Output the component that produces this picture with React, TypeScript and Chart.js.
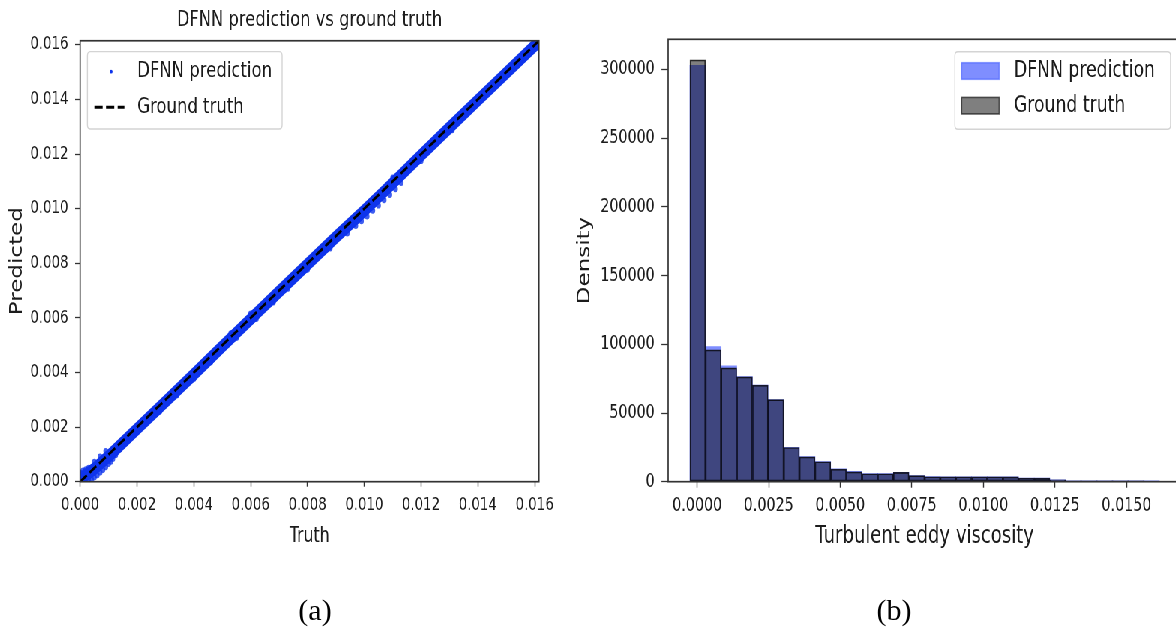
import React, { useEffect, useRef } from "react";
import { Chart, registerables } from "chart.js";

Chart.register(...registerables);

// ---------- layout / style constants ----------
const SQUEEZE = 0.75; // the reference figure is squeezed horizontally
const FONT = '"DejaVu Sans", "Liberation Sans", sans-serif';
const INK = "#1c1c1c";
const SPINE = "#333333";
const BLUE = "rgb(14, 52, 236)";
const BLUE_SPRAY = "rgba(14, 52, 236, 0.8)";
const PRED_FILL = "rgba(0, 30, 255, 0.5)";
const TRUTH_FILL = "rgba(0, 0, 0, 0.5)";
const TRUTH_EDGE = "rgba(0, 0, 0, 0.8)";

// ---------- (a) scatter: DFNN prediction vs ground truth ----------
const scatterTitle = "DFNN prediction vs ground truth";
const scatterXLabel = "Truth";
const scatterYLabel = "Predicted";
const scatterMax = 0.01615;
const scatterXTicks = [0, 0.002, 0.004, 0.006, 0.008, 0.01, 0.012, 0.014, 0.016];
const scatterYTicks = [0, 0.002, 0.004, 0.006, 0.008, 0.01, 0.012, 0.014, 0.016];

const truthLineX = [0, 0.01615];
const truthLineY = [0, 0.01615];

const bandTruth = [0, 0.0005, 0.001, 0.002, 0.003, 0.004, 0.005, 0.006, 0.007, 0.008, 0.009, 0.01, 0.011, 0.012, 0.013, 0.014, 0.015, 0.01615];
const bandPred = [0.0001, 0.00047, 0.00093, 0.00193, 0.00293, 0.00393, 0.00495, 0.00596, 0.00696, 0.00796, 0.00896, 0.00993, 0.01093, 0.01196, 0.01297, 0.01397, 0.01497, 0.01612];

const sprayTruth = [0.0, 0.0001, 0.0002, 0.0003, 0.0001, 0.0003, 0.0004, 0.0005, 0.0006, 0.0007, 0.0008, 0.0009, 0.001, 0.00108, 0.00115, 0.00125, 0.0014, 0.0005, 0.0007, 0.0009, 0.0028, 0.0034, 0.004, 0.0046, 0.0053, 0.0055, 0.006, 0.0062, 0.0068, 0.0073, 0.008, 0.0088, 0.0094, 0.0097, 0.0099, 0.0101, 0.0103, 0.0105, 0.0107, 0.011, 0.0109, 0.0111, 0.0113, 0.012, 0.0131];
const sprayPred = [0.00033, 0.0004, 0.00045, 0.0005, 0.00002, 0.0001, 0.00008, 0.00016, 0.00024, 0.00034, 0.00044, 0.00054, 0.00066, 0.00074, 0.00084, 0.00098, 0.00119, 0.00072, 0.00092, 0.00112, 0.00257, 0.00317, 0.00377, 0.00438, 0.00543, 0.00527, 0.00615, 0.00597, 0.00657, 0.00707, 0.00777, 0.00855, 0.0091, 0.00937, 0.00955, 0.00972, 0.00993, 0.01012, 0.01032, 0.01113, 0.01051, 0.01072, 0.01095, 0.01175, 0.01288];

// ---------- (b) histogram ----------
const histXLabel = "Turbulent eddy viscosity";
const histYLabel = "Density";
const histXMin = -0.001014;
const histXMax = 0.016913;
const histYMax = 322000;
const histXTicks = [0, 0.0025, 0.005, 0.0075, 0.01, 0.0125, 0.015];
const histYTicks = [0, 50000, 100000, 150000, 200000, 250000, 300000];

const binCenters = [0.000019, 0.000566, 0.001112, 0.001659, 0.002206, 0.002753, 0.0033, 0.003847, 0.004394, 0.004941, 0.005488, 0.006035, 0.006582, 0.007129, 0.007676, 0.008223, 0.00877, 0.009317, 0.009864, 0.010411, 0.010958, 0.011505, 0.012052, 0.012599, 0.013146, 0.013693, 0.01424, 0.014787, 0.015334, 0.015881];
const predDensity = [303000, 98300, 84300, 76500, 70400, 59800, 25000, 18200, 14600, 9300, 7500, 5900, 5900, 6800, 4500, 3700, 3600, 3600, 3600, 3600, 3600, 2700, 2700, 1400, 600, 600, 550, 550, 550, 550];
const truthDensity = [307000, 95900, 82800, 76300, 70300, 59700, 24900, 18100, 14500, 9200, 7100, 5800, 5800, 6800, 4400, 3600, 3600, 3600, 3600, 3600, 3500, 2700, 2600, 1400, 600, 600, 550, 550, 550, 500];

const captions = ["(a)", "(b)"];

// ---------- plugins ----------
function makeFrame(color: string, width: number) {
  return {
    id: "frame",
    afterDatasetsDraw(chart: any) {
      const { ctx, chartArea: a } = chart;
      ctx.save();
      ctx.strokeStyle = color;
      ctx.lineWidth = width;
      ctx.strokeRect(a.left, a.top, a.right - a.left, a.bottom - a.top);
      ctx.restore();
    },
  };
}

function roundRectPath(ctx: any, x: number, y: number, w: number, h: number, r: number) {
  ctx.beginPath();
  ctx.moveTo(x + r, y);
  ctx.lineTo(x + w - r, y);
  ctx.quadraticCurveTo(x + w, y, x + w, y + r);
  ctx.lineTo(x + w, y + h - r);
  ctx.quadraticCurveTo(x + w, y + h, x + w - r, y + h);
  ctx.lineTo(x + r, y + h);
  ctx.quadraticCurveTo(x, y + h, x, y + h - r);
  ctx.lineTo(x, y + r);
  ctx.quadraticCurveTo(x, y, x + r, y);
  ctx.closePath();
}

function makeBoxLegend(cfg: any) {
  return {
    id: "boxLegend",
    afterDraw(chart: any) {
      const { ctx, chartArea } = chart;
      const x0 = cfg.anchor === "right" ? chartArea.right - cfg.offsetX - cfg.width : chartArea.left + cfg.offsetX;
      const y0 = chartArea.top + cfg.offsetY;
      ctx.save();
      roundRectPath(ctx, x0, y0, cfg.width, cfg.height, 4);
      ctx.fillStyle = "rgba(255,255,255,0.85)";
      ctx.fill();
      ctx.strokeStyle = "#d4d4d4";
      ctx.lineWidth = 1.4;
      ctx.stroke();
      cfg.items.forEach((it: any, i: number) => {
        const ds = chart.data.datasets[it.dataset];
        const cy = y0 + cfg.rows[i];
        ctx.setLineDash([]);
        if (it.kind === "dot") {
          ctx.fillStyle = ds.borderColor;
          ctx.beginPath();
          ctx.arc(x0 + it.mx, cy, 1.9, 0, Math.PI * 2);
          ctx.fill();
        } else if (it.kind === "dash") {
          ctx.strokeStyle = ds.borderColor;
          ctx.lineWidth = ds.borderWidth;
          ctx.setLineDash(ds.borderDash || []);
          ctx.beginPath();
          ctx.moveTo(x0 + it.mx0, cy);
          ctx.lineTo(x0 + it.mx1, cy);
          ctx.stroke();
          ctx.setLineDash([]);
        } else if (it.kind === "patch") {
          const ph = cfg.patchH;
          ctx.fillStyle = "#ffffff";
          ctx.fillRect(x0 + it.mx0, cy - ph / 2, it.mx1 - it.mx0, ph);
          ctx.fillStyle = ds.backgroundColor;
          ctx.fillRect(x0 + it.mx0, cy - ph / 2, it.mx1 - it.mx0, ph);
          ctx.strokeStyle = it.edge;
          ctx.lineWidth = 1.6;
          ctx.strokeRect(x0 + it.mx0, cy - ph / 2, it.mx1 - it.mx0, ph);
        }
        ctx.fillStyle = "#1a1a1a";
        ctx.font = `${cfg.fontSize}px ${FONT}`;
        ctx.textBaseline = "middle";
        ctx.textAlign = "left";
        ctx.fillText(ds.label, x0 + cfg.textX, cy);
      });
      ctx.restore();
    },
  };
}

function fixedTicks(values: number[]) {
  return (axis: any) => {
    axis.ticks = values.map((v) => ({ value: v }));
  };
}

export default function App() {
  const leftRef = useRef<HTMLCanvasElement | null>(null);
  const rightRef = useRef<HTMLCanvasElement | null>(null);

  useEffect(() => {
    const tickFontL = { family: FONT, size: 17.8 };
    const tickFontR = { family: FONT, size: 19 };

    const left = new Chart(leftRef.current as HTMLCanvasElement, {
      type: "scatter",
      data: {
        datasets: [
          {
            label: "Ground truth",
            data: truthLineX.map((x, i) => ({ x, y: truthLineY[i] })),
            showLine: true,
            borderColor: "#000000",
            borderWidth: 2.8,
            borderDash: [11, 4.5],
            pointRadius: 0,
            order: 0,
            clip: 0,
          },
          {
            label: "DFNN prediction",
            data: bandTruth.map((x, i) => ({ x, y: bandPred[i] })),
            showLine: true,
            borderColor: BLUE,
            backgroundColor: BLUE,
            borderWidth: 12.5,
            borderCapStyle: "round",
            borderJoinStyle: "round",
            pointRadius: 0,
            order: 1,
            clip: 0,
          },
          {
            label: "DFNN prediction",
            data: sprayTruth.map((x, i) => ({ x, y: sprayPred[i] })),
            showLine: false,
            backgroundColor: BLUE_SPRAY,
            borderWidth: 0,
            pointRadius: 3.2,
            order: 2,
            clip: 0,
          },
        ],
      } as any,
      options: {
        responsive: false,
        animation: false,
        devicePixelRatio: 1,
        events: [],
        layout: { padding: { left: 0, top: 0, right: 106.3, bottom: 0 } },
        plugins: {
          legend: { display: false },
          tooltip: { enabled: false },
          title: {
            display: true,
            text: scatterTitle,
            fullSize: false,
            color: INK,
            font: { family: FONT, size: 21.8, weight: "normal" },
            padding: { top: 7.5, bottom: 7.1 },
          },
        },
        scales: {
          x: {
            type: "linear",
            min: 0,
            max: scatterMax,
            afterBuildTicks: fixedTicks(scatterXTicks),
            afterFit: (ax: any) => {
              ax.height = 118.3;
            },
            ticks: {
              callback: (v: any) => Number(v).toFixed(3),
              font: tickFontL,
              color: INK,
              padding: 8.5,
              autoSkip: false,
              maxRotation: 0,
            },
            grid: { display: true, drawOnChartArea: false, drawTicks: true, tickLength: 5, tickColor: SPINE, tickWidth: 1.4 },
            border: { display: false },
            title: { display: true, text: scatterXLabel, color: INK, font: { family: FONT, size: 21 }, padding: { top: 0, bottom: 50.9 } },
          },
          y: {
            type: "linear",
            min: 0,
            max: scatterMax,
            afterBuildTicks: fixedTicks(scatterYTicks),
            afterFit: (ax: any) => {
              ax.width = 106.7;
            },
            ticks: {
              callback: (v: any) => Number(v).toFixed(3),
              font: tickFontL,
              color: INK,
              padding: 8.9,
              autoSkip: false,
            },
            grid: { display: true, drawOnChartArea: false, drawTicks: true, tickLength: 6.7, tickColor: SPINE, tickWidth: 1.3 },
            border: { display: false },
            title: { display: true, text: scatterYLabel, color: INK, font: { family: FONT, size: 23 }, padding: { top: 8.9, bottom: 0 } },
          },
        },
      } as any,
      plugins: [
        makeFrame(SPINE, 1.7),
        makeBoxLegend({
          anchor: "left",
          offsetX: 9.7,
          offsetY: 10.9,
          width: 259.6,
          height: 77.3,
          rows: [20, 55.6],
          textX: 66.3,
          fontSize: 22,
          items: [
            { dataset: 1, kind: "dot", mx: 31.6 },
            { dataset: 0, kind: "dash", mx0: 9.3, mx1: 49.3 },
          ],
        }),
      ] as any,
    });

    const right = new Chart(rightRef.current as HTMLCanvasElement, {
      type: "bar",
      data: {
        datasets: [
          {
            label: "DFNN prediction",
            data: binCenters.map((x, i) => ({ x, y: predDensity[i] })),
            backgroundColor: PRED_FILL,
            borderColor: PRED_FILL,
            borderWidth: 0,
            grouped: false,
            barPercentage: 1,
            categoryPercentage: 1,
            order: 1,
          },
          {
            label: "Ground truth",
            data: binCenters.map((x, i) => ({ x, y: truthDensity[i] })),
            backgroundColor: TRUTH_FILL,
            borderColor: TRUTH_EDGE,
            borderWidth: 1,
            borderSkipped: false,
            grouped: false,
            barPercentage: 1,
            categoryPercentage: 1,
            order: 0,
          },
        ],
      } as any,
      options: {
        responsive: false,
        animation: false,
        devicePixelRatio: 1,
        events: [],
        layout: { padding: { left: 0, top: 39.3, right: 11, bottom: 0 } },
        plugins: {
          legend: { display: false },
          tooltip: { enabled: false },
          title: { display: false },
        },
        scales: {
          x: {
            type: "linear",
            min: histXMin,
            max: histXMax,
            offset: false,
            afterBuildTicks: fixedTicks(histXTicks),
            afterFit: (ax: any) => {
              ax.height = 118.3;
            },
            ticks: {
              callback: (v: any) => Number(v).toFixed(4),
              font: tickFontR,
              color: INK,
              padding: 6.7,
              autoSkip: false,
              maxRotation: 0,
            },
            grid: { display: true, offset: false, drawOnChartArea: false, drawTicks: true, tickLength: 6, tickColor: SPINE, tickWidth: 1.4 },
            border: { display: false },
            title: { display: true, text: histXLabel, color: INK, font: { family: FONT, size: 24 }, padding: { top: 0, bottom: 48.6 } },
          },
          y: {
            type: "linear",
            min: 0,
            max: histYMax,
            afterBuildTicks: fixedTicks(histYTicks),
            afterFit: (ax: any) => {
              ax.width = 131;
            },
            ticks: {
              callback: (v: any) => String(Math.round(Number(v))),
              font: tickFontR,
              color: INK,
              padding: 8.9,
              autoSkip: false,
            },
            grid: { display: true, drawOnChartArea: false, drawTicks: true, tickLength: 8.9, tickColor: SPINE, tickWidth: 1.3 },
            border: { display: false },
            title: { display: true, text: histYLabel, color: INK, font: { family: FONT, size: 23 }, padding: { top: 6.2, bottom: 0 } },
          },
        },
      } as any,
      plugins: [
        makeFrame(SPINE, 1.7),
        makeBoxLegend({
          anchor: "right",
          offsetX: 14.1,
          offsetY: 12.4,
          width: 287.6,
          height: 77.6,
          rows: [19.3, 54],
          textX: 78.7,
          fontSize: 23,
          patchH: 16.6,
          items: [
            { dataset: 0, kind: "patch", mx0: 9, mx1: 59.1, edge: "rgba(60,90,255,0.55)" },
            { dataset: 1, kind: "patch", mx0: 9, mx1: 59.1, edge: "rgba(0,0,0,0.6)" },
          ],
        }),
      ] as any,
    });

    return () => {
      left.destroy();
      right.destroy();
    };
  }, []);

  const captionStyle = (cx: number): React.CSSProperties => ({
    position: "absolute",
    left: cx - 50,
    width: 100,
    top: 595,
    textAlign: "center",
    fontFamily: '"Liberation Serif", "Times New Roman", serif',
    fontSize: 30,
    lineHeight: "30px",
    color: "#000",
  });

  return (
    <div
      style={{
        position: "fixed",
        left: 0,
        top: 0,
        width: 1176,
        height: 640,
        overflow: "hidden",
        background: "#ffffff",
      }}
    >
      <div
        style={{
          position: "absolute",
          left: 0,
          top: 0,
          width: 1176 / SQUEEZE,
          height: 600,
          transform: `scaleX(${SQUEEZE})`,
          transformOrigin: "0 0",
        }}
      >
        <canvas ref={leftRef} width={825} height={600} style={{ position: "absolute", left: 0, top: 0 }} />
        <canvas ref={rightRef} width={826} height={600} style={{ position: "absolute", left: 760, top: 0 }} />
      </div>
      <div style={captionStyle(315)}>{captions[0]}</div>
      <div style={captionStyle(894)}>{captions[1]}</div>
    </div>
  );
}
